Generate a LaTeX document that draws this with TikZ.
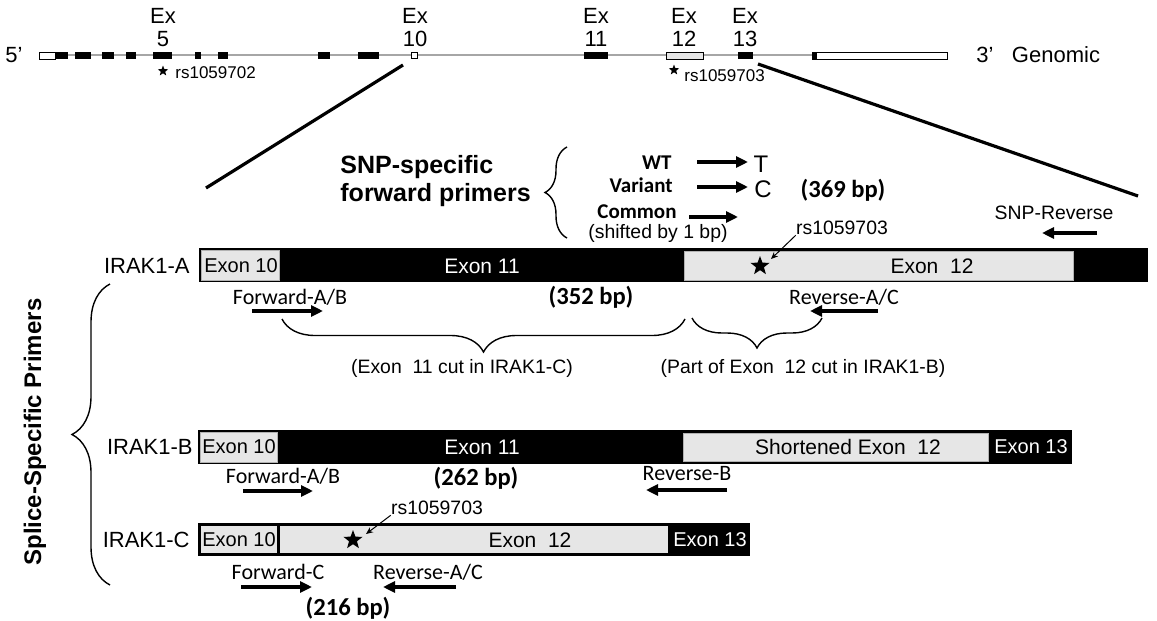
\documentclass[tikz,border=0pt]{standalone}
\usepackage{fontspec}
\setmainfont{Liberation Sans}
\newfontfamily\calibri{Carlito}
\usepackage{tikz}
\usetikzlibrary{arrows.meta,shapes.geometric,decorations.pathreplacing}
\definecolor{exgray}{RGB}{230,230,230}

\begin{document}
\begin{tikzpicture}[x=0.5pt,y=-0.5pt,
    lab/.style={font=\fontsize{10.5}{12}\selectfont},
    iso/.style={font=\fontsize{11}{13}\selectfont},
    exlab/.style={font=\fontsize{10}{12}\selectfont},
    cuttext/.style={font=\fontsize{9.7}{12}\selectfont},
    rsl/.style={font=\fontsize{8.5}{10}\selectfont},
    cal/.style={font=\calibri\fontsize{11}{13}\selectfont},
    calb/.style={font=\calibri\bfseries\fontsize{10.5}{12}\selectfont},
    bp/.style={font=\calibri\bfseries\fontsize{12.3}{14}\selectfont},
    primer/.style={line width=1.7pt,-{Triangle[length=6pt,width=5.5pt]}},
    ptr/.style={line width=0.5pt,-{Stealth[length=3.5pt,width=3pt]}},
    zoomline/.style={line width=1.6pt},
    brc/.style={line width=0.7pt,decorate,decoration={brace,amplitude=#1}},
    lite/.style={fill=exgray,draw=gray!60,line width=0.4pt},
    snp/.style={star,star points=5,star point ratio=2.4,fill=black,minimum size=#1}
]
        \tikzstyle{every node}+=[inner sep=0pt]
        \useasboundingbox (0,0) rectangle (1157,621);
        % genomic line
        \draw [gray!70, line width=0.8pt] (39,55) -- (947,55);
        \draw [black, fill=white, line width=0.5pt] (39,52) rectangle (55,59);
        \foreach \a/\b in {55/68,75/91,102/114,126/136,153/172,195/201,218/228,318/330,358/379,584/608,738/753}
            \fill [black] (\a,52) rectangle (\b,59);
        \draw [black, fill=white, line width=0.5pt] (411,52) rectangle (417,58);
        \draw [black, fill=exgray, line width=0.5pt] (666,52) rectangle (703,59);
        \draw [black, fill=white, line width=0.5pt] (812,52) rectangle (947,59);
        \fill [black] (812,52) rectangle (817,59);
        \foreach \n/\x in {5/163,10/415,11/596,12/684,13/745} {
            \node [iso] (ex\n) at (\x,16) {Ex};
            \node [iso] (exn\n) at (\x,39) {\n};
        }
        \node [iso] (five) at (14,55) {5’};
        \node [iso] (three) at (985,55) {3’};
        \node [iso] (genomic) at (1056,55) {Genomic};
        \node [snp=5.5pt] (s702) at (163,71) {};
        \node [rsl, anchor=west] (rs702) at (175,73) {rs1059702};
        \node [snp=5.5pt] (s703) at (674,70) {};
        \node [rsl, anchor=west] (rs703) at (684,76) {rs1059703};
        % zoom lines
        \coordinate (zl1) at (403,65);
        \coordinate (zl2) at (206,188);
        \coordinate (zr1) at (758,64);
        \coordinate (zr2) at (1138,196);
        \draw [zoomline] (zl1) -- (zl2);
        \draw [zoomline] (zr1) -- (zr2);
        % SNP-specific primers
        \node [font=\bfseries\fontsize{12.5}{14}\selectfont, align=left, anchor=west] (snphead) at (340,181) {SNP-specific\\forward primers};
        \draw [brc=11pt] (567,238) -- (567,147);
        \node [calb, anchor=east] (wt) at (672,163) {WT};
        \draw [primer] (697,162) -- (748,162);
        \node [font=\fontsize{12}{14}\selectfont] (allT) at (761,164) {T};
        \node [calb, anchor=east] (var) at (673,185) {Variant};
        \draw [primer] (697,187) -- (748,187);
        \node [font=\fontsize{12}{14}\selectfont] (allC) at (763,189) {C};
        \node [calb] (com) at (637,212) {Common};
        \draw [primer] (689,217) -- (738,217);
        \node [cuttext] (shft) at (658,233) {(shifted by 1 bp)};
        \node [bp] (bp369) at (843,190) {(369 bp)};
        \node [cuttext] (snprev) at (1054,213) {SNP-Reverse};
        \draw [primer] (1097,233) -- (1042,233);
        % IRAK1-A
        \fill [black] (199,248) rectangle (1148,282);
        \draw [lite] (201,250) rectangle (279,280);
        \draw [lite] (684,251) rectangle (1073,280);
        \node [iso, anchor=east] (isoA) at (190,266) {IRAK1-A};
        \node [exlab] (a10) at (241,266) {Exon 10};
        \node [lab, text=white] (a11) at (482,266) {Exon 11};
        \node [lab] (a12) at (932,266) {Exon~~12};
        \node [snp=10pt] (starA) at (760,266) {};
        \node [cuttext] (rsA) at (842,228) {rs1059703};
        \draw [ptr] (rsA.south west) -- ([shift={(11,-7)}]starA.center);
        \node [cal] (fwA) at (290,297) {Forward-A/B};
        \draw [primer] (252,311) -- (323,311);
        \node [bp] (bpA) at (591,297) {(352 bp)};
        \node [cal] (rvA) at (844,297) {Reverse-A/C};
        \draw [primer] (878,311) -- (810,311);
        \draw [brc=16.5pt] (685,319) -- (282,319);
        \node [cuttext] (cut11) at (462,368) {(Exon~~11 cut in IRAK1-C)};
        \draw [brc=15pt] (822,318) -- (692,318);
        \node [cuttext] (cut12) at (803,368) {(Part of Exon~~12 cut in IRAK1-B)};
        % IRAK1-B
        \fill [black] (198,430) rectangle (1072,464);
        \draw [lite] (200,432) rectangle (277,462);
        \draw [lite] (683,433) rectangle (988,461);
        \node [iso, anchor=east] (isoB) at (193,447) {IRAK1-B};
        \node [exlab] (b10) at (239,447) {Exon 10};
        \node [lab, text=white] (b11) at (482,447) {Exon 11};
        \node [lab] (b12) at (848,447) {Shortened Exon~~12};
        \node [exlab, text=white] (b13) at (1031,447) {Exon 13};
        \node [cal] (fwB) at (283,476) {Forward-A/B};
        \draw [primer] (243,491) -- (313,491);
        \node [bp] (bpB) at (476,478) {(262 bp)};
        \node [cal] (rvB) at (687,474) {Reverse-B};
        \draw [primer] (727,490) -- (646,490);
        % IRAK1-C
        \fill [black] (198,523) rectangle (750,556);
        \fill [exgray] (201,526) rectangle (277,553);
        \fill [exgray] (280,526) rectangle (668,553);
        \node [iso, anchor=east] (isoC) at (190,540) {IRAK1-C};
        \node [exlab] (c10) at (239,540) {Exon 10};
        \node [snp=10pt] (starC) at (353,540) {};
        \node [lab] (c12) at (530,540) {Exon~~12};
        \node [exlab, text=white] (c13) at (710,540) {Exon 13};
        \node [cuttext] (rsC) at (437,508) {rs1059703};
        \draw [ptr] (rsC.south west) -- ([shift={(13,-6)}]starC.center);
        \node [cal] (fwC) at (278,572) {Forward-C};
        \draw [primer] (241,587) -- (312,587);
        \node [cal] (rvC) at (428,572) {Reverse-A/C};
        \draw [primer] (456,587) -- (383,587);
        \node [bp] (bpC) at (348,608) {(216 bp)};
        % splice-specific brace
        \draw [brc=19pt] (110,585) -- (110,284);
        \node [font=\bfseries\fontsize{12}{14}\selectfont, rotate=90] (splice) at (35,432) {Splice-Specific Primers};
\end{tikzpicture}
\end{document}
